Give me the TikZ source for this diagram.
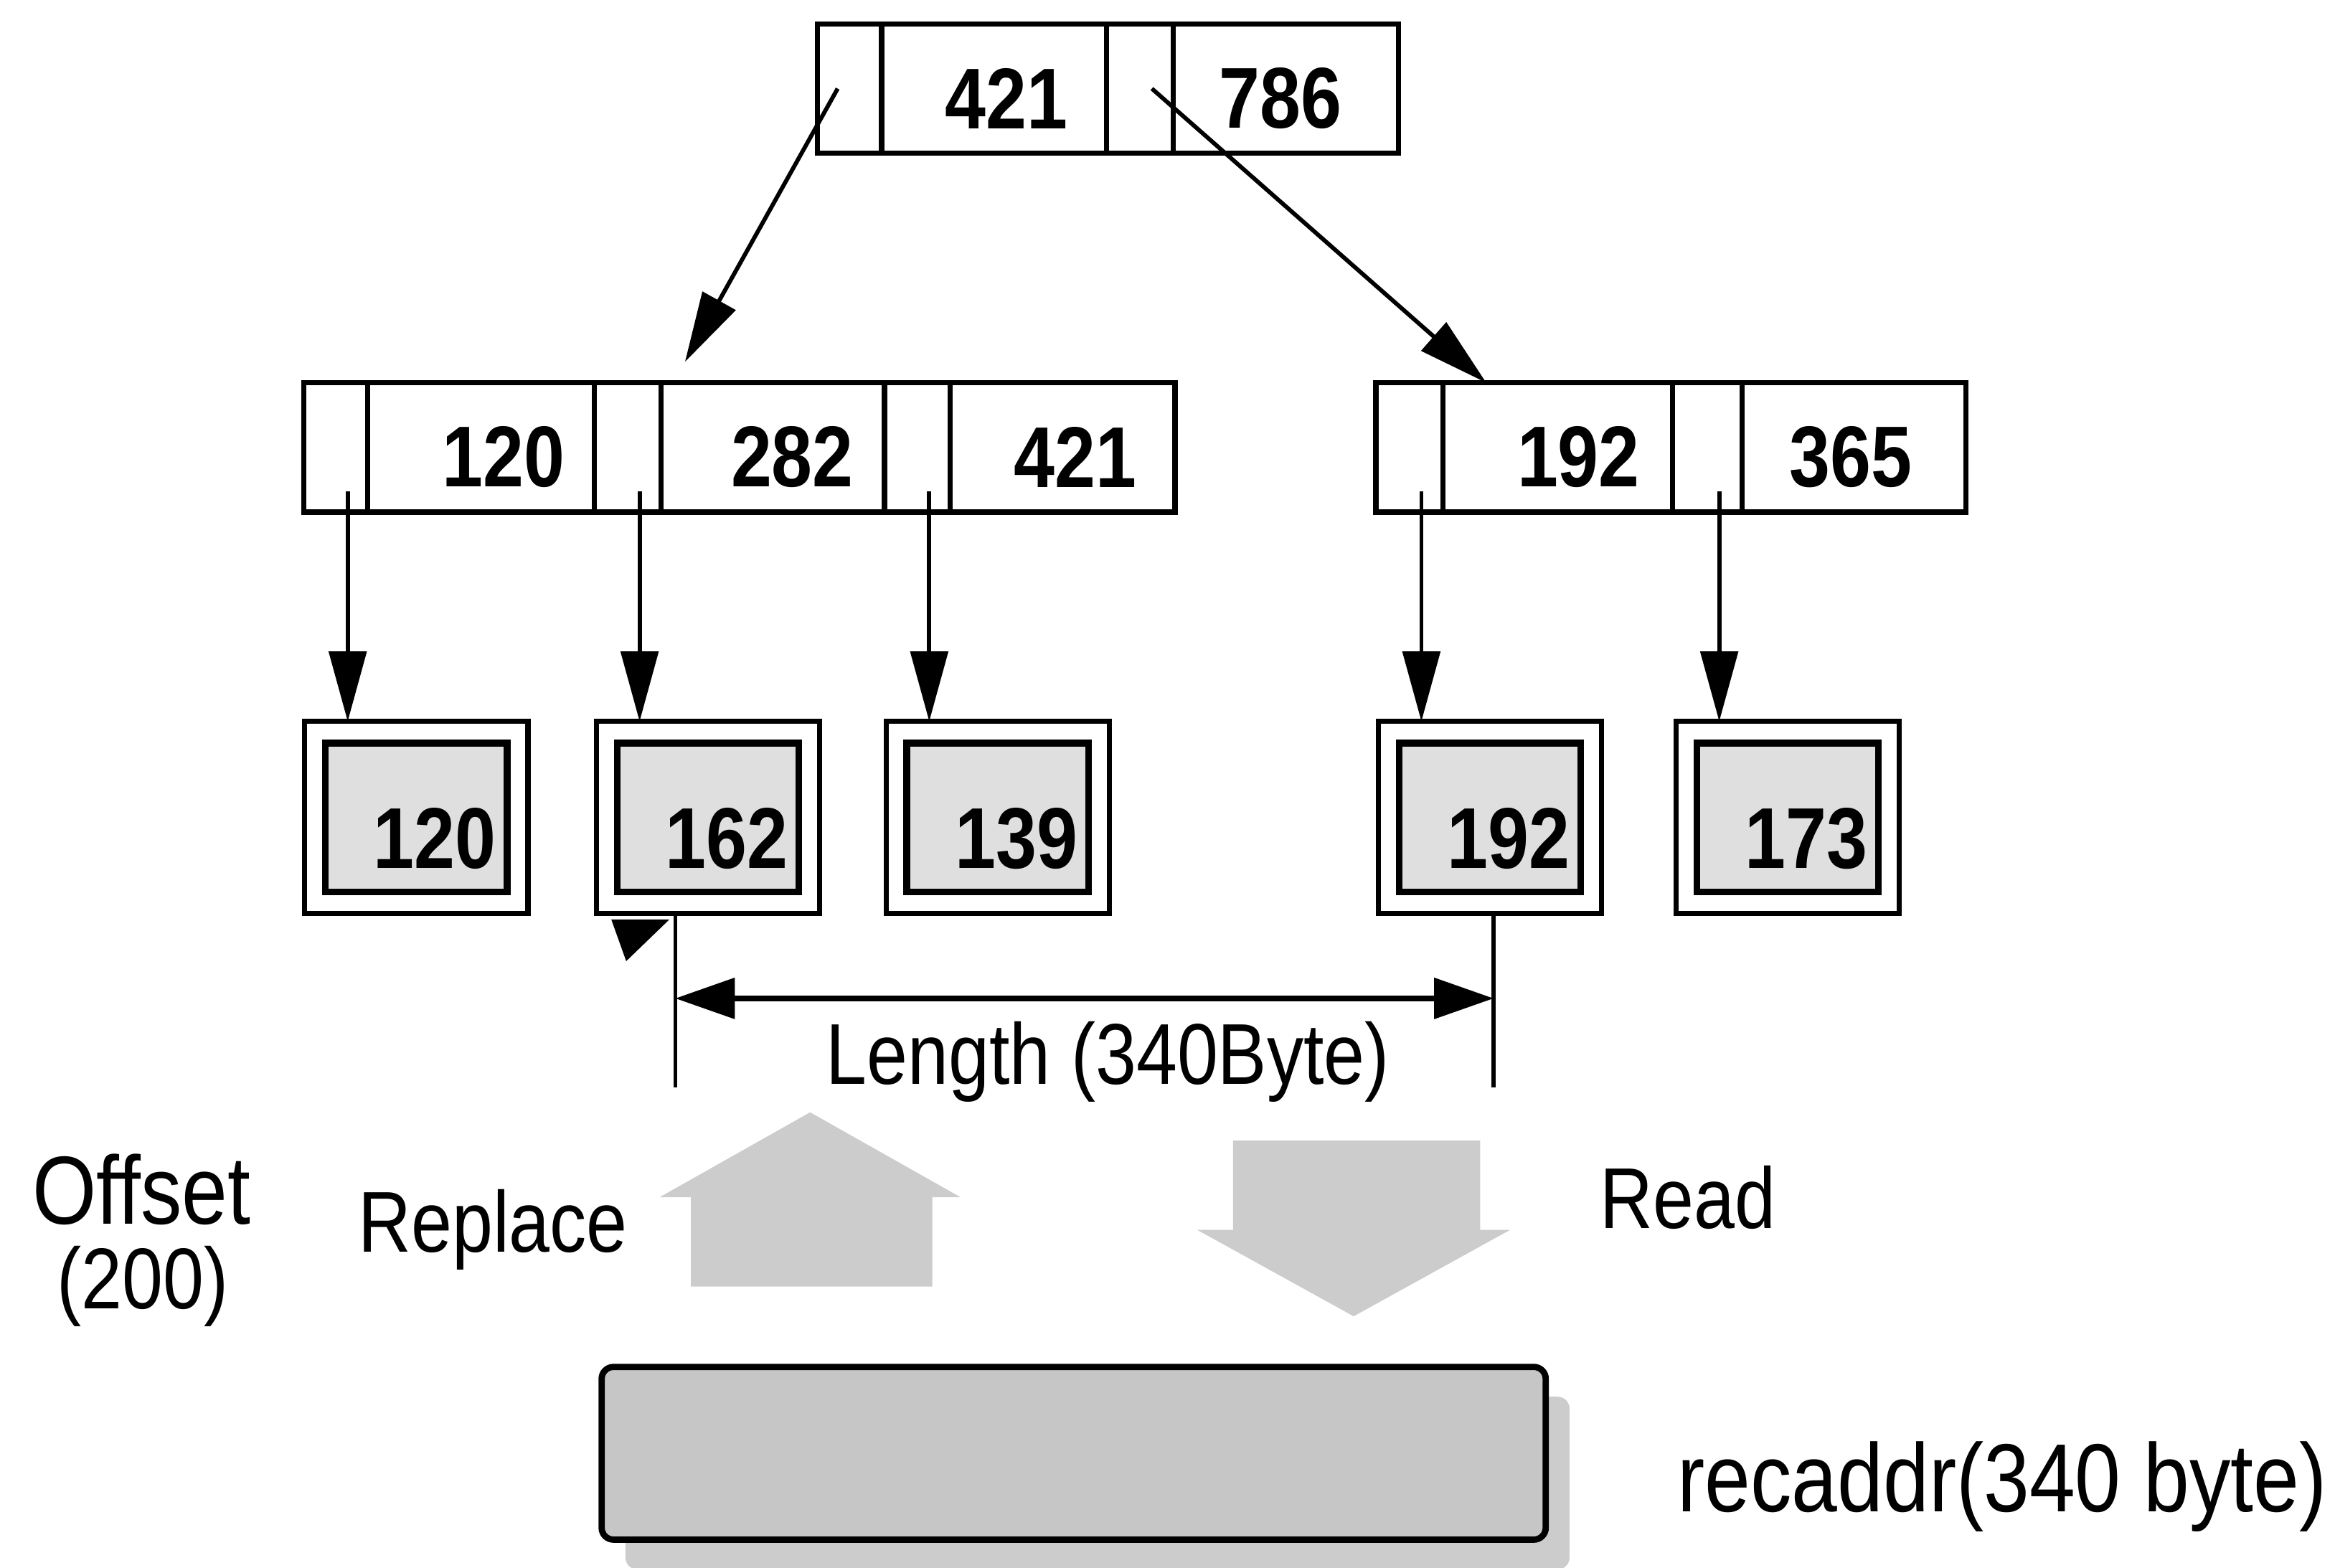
\documentclass[tikz,border=0pt]{standalone}
\usepackage{fontspec}
\setmainfont{Liberation Sans}[FakeStretch=0.85]
\usetikzlibrary{arrows.meta,shadows}

\begin{document}
\begin{tikzpicture}[x=0.1mm,y=-0.1mm,
  cell/.style={draw,line width=1pt,inner sep=0pt,outer sep=0pt,anchor=north west,minimum height=8.7mm},
  leaf/.style={draw,line width=1pt,inner sep=0pt,outer sep=0pt,minimum width=15mm,minimum height=12.9mm},
  leafin/.style={draw,line width=1.3pt,fill=gray!25,inner sep=0pt,minimum width=12.2mm,minimum height=10mm},
  num/.style={inner sep=0pt,font=\fontsize{16.5}{18}\selectfont\bfseries},
  lbl/.style={inner sep=0pt,anchor=base,font=\fontsize{16.5}{18}\selectfont},
  ptr/.style={line width=.8pt,-{Triangle[length=4.7mm,width=2.5mm]}},
  dim/.style={line width=1pt,{Triangle[length=4mm,width=2.7mm]}-{Triangle[length=4mm,width=2.7mm]}},
  flow/.style={fill=gray!40}]
  \useasboundingbox (0,0) rectangle (1568,1053);
  % index records
  \foreach \nm/\a/\b/\t in {tp0/549/592/16,tk0/592/743/16,tp1/743/788/16,tk1/788/939/16,
      lp0/204/247/257,lk0/247/399/257,lp1/399/444/257,lk1/444/594/257,lp2/594/638/257,lk2/638/789/257,
      rp0/924/969/257,rk0/969/1123/257,rp1/1123/1170/257,rk1/1170/1320/257}
    \node[cell,minimum width=(\b-\a)*0.1mm] (\nm) at (\a,\t) {};
  \foreach \nm/\x/\y/\v in {k421/676/66/421,k786/860/66/786,k120/338/307/120,k282/532/307/282,
      k421b/722/307/421,k192/1060/307/192,k365/1243/307/365}
    \node[num] (\nm) at (\x,\y) {\v};
  % data pages
  \foreach \v/\x in {120/279.5,162/475.5,139/670,192/1000.5,173/1200.5} {
    \node[leaf] (l\v) at (\x,549) {};
    \node[leafin] (i\v) at (l\v.center) {};
    \node[num] (n\v) at ([shift={(12.5,14)}]l\v.center) {\v};
  }
  \draw[ptr] ([shift={(-8,0)}]tp0.center) -- ([shift={(16,-14)}]lk1.north west);
  \draw[ptr] ([shift={(8,0)}]tp1.center) -- ([shift={(29,0)}]rk0.north west);
  \foreach \p/\v in {lp0/120,lp1/162,lp2/139,rp0/192,rp1/173}
    \draw[ptr] ([shift={(8,-14)}]\p.south) -- ([shift={(-46,0)}]l\v.north);
  % length
  \fill ([shift={(-65,4)}]l162.south) -- ([shift={(-26,4)}]l162.south) -- ([shift={(-55,32)}]l162.south) -- cycle;
  \draw[line width=.8pt] ([shift={(-22,0)}]l162.south) -- ++(0,117) coordinate (lenL);
  \draw[line width=.8pt] ([shift={(2.5,0)}]l192.south) -- ++(0,117) coordinate (lenR);
  \draw[dim] ([shift={(0,-60)}]lenL) -- ([shift={(0,-60)}]lenR);
  \node[lbl] (len) at (744,728) {Length (340Byte)};
  % replace / read
  \fill[flow] (464,864) -- (464,804) -- (443,804) -- (544,747) -- (645,804) -- (626,804) -- (626,864) -- cycle;
  \fill[flow] (828,766) -- (994,766) -- (994,826) -- (1014,826) -- (909,884) -- (804,826) -- (828,826) -- cycle;
  \node[lbl,font=\fontsize{18.5}{20}\selectfont] (off) at (95,822) {Offset};
  \node[lbl] (offv) at (96,879) {(200)};
  \node[lbl] (rep) at (331,841) {Replace};
  \node[lbl] (read) at (1133.5,825) {Read};
  % record buffer
  \node[draw,line width=1.2pt,fill=gray!45,rounded corners=.8mm,minimum width=63.4mm,minimum height=11.6mm,
    drop shadow={shadow xshift=1.6mm,shadow yshift=-2mm,fill=gray!40,opacity=1}] (rec) at (721,976) {};
  \node[lbl,font=\fontsize{18.5}{20}\selectfont] (recl) at (1344.5,1015) {recaddr(340 byte)};
\end{tikzpicture}
\end{document}
